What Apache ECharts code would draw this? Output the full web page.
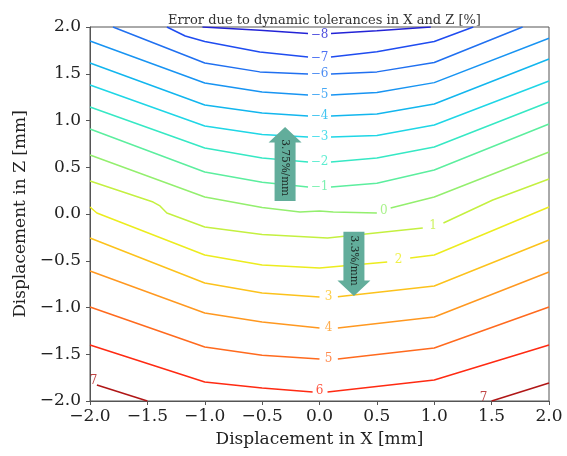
<!DOCTYPE html>
<html>
<head>
<meta charset="utf-8">
<script src="https://cdn.jsdelivr.net/npm/echarts@6/dist/echarts.min.js"></script>
<style>
html, body { margin: 0; padding: 0; background: #fff; }
#chart { width: 567px; height: 456px; }
</style>
</head>
<body>
<div id="chart"></div>
<script>
// contour levels of the error, in %
const levels = [-8, -7, -6, -5, -4, -3, -2, -1, 0, 1, 2, 3, 4, 5, 6, 7];

// contour lines: pieces of [x, z] in mm, split where the inline label sits
const lvM8 = [[[-1.02, 2.0], [-0.52, 1.965], [-0.1, 1.93]], [[0.1, 1.93], [0.5, 1.96], [0.97, 2.0]]];
const lvM7 = [[[-1.33, 2.0], [-1.17, 1.904], [-1.0, 1.845], [-0.52, 1.733], [-0.1, 1.678]], [[0.1, 1.678], [0.5, 1.735], [1.0, 1.845], [1.34, 2.0]]];
const lvM6 = [[[-1.8, 2.0], [-1.0, 1.615], [-0.52, 1.52], [-0.1, 1.497]], [[0.1, 1.497], [0.5, 1.52], [1.0, 1.62], [1.77, 2.0]]];
const lvM5 = [[[-2.0, 1.85], [-1.0, 1.401], [-0.5, 1.305], [-0.1, 1.273]], [[0.1, 1.273], [0.5, 1.3], [1.0, 1.405], [2.0, 1.88]]];
const lvM4 = [[[-2.0, 1.615], [-1.0, 1.166], [-0.5, 1.08], [-0.1, 1.048]], [[0.1, 1.048], [0.5, 1.07], [1.0, 1.176], [2.0, 1.658]]];
const lvM3 = [[[-2.0, 1.38], [-1.0, 0.941], [-0.5, 0.85], [-0.1, 0.824]], [[0.1, 0.824], [0.5, 0.84], [1.0, 0.952], [2.0, 1.422]]];
const lvM2 = [[[-2.0, 1.144], [-1.0, 0.706], [-0.5, 0.6], [-0.1, 0.556]], [[0.1, 0.556], [0.5, 0.6], [1.0, 0.717], [2.0, 1.198]]];
const lvM1 = [[[-2.0, 0.909], [-1.0, 0.449], [-0.5, 0.34], [-0.1, 0.289]], [[0.1, 0.289], [0.5, 0.33], [1.0, 0.471], [2.0, 0.963]]];
const lv0 = [[[-2.0, 0.631], [-1.0, 0.182], [-0.5, 0.07], [-0.17, 0.021], [0.0, 0.032], [0.12, 0.021], [0.5, 0.011]], [[0.62, 0.065], [1.0, 0.182], [2.0, 0.663]]];
const lvP1 = [[[-2.0, 0.353], [-1.45, 0.128], [-1.39, 0.086], [-1.33, 0.011], [-1.0, -0.139], [-0.5, -0.22], [0.07, -0.257], [0.9, -0.15]], [[1.08, -0.096], [1.51, 0.15], [2.0, 0.374]]];
const lvP2 = [[[-2.0, 0.075], [-1.94, 0.011], [-1.0, -0.439], [-0.5, -0.545], [0.0, -0.578], [0.59, -0.513]], [[0.79, -0.471], [1.0, -0.439], [2.0, 0.075]]];
const lvP3 = [[[-2.0, -0.257], [-1.0, -0.738], [-0.5, -0.845], [0.0, -0.888]], [[0.16, -0.885], [1.0, -0.77], [2.0, -0.278]]];
const lvP4 = [[[-2.0, -0.61], [-1.0, -1.059], [-0.5, -1.155], [0.0, -1.219]], [[0.16, -1.219], [1.0, -1.102], [2.0, -0.62]]];
const lvP5 = [[[-2.0, -0.995], [-1.0, -1.422], [-0.5, -1.51], [0.0, -1.551]], [[0.16, -1.551], [1.0, -1.433], [2.0, -0.995]]];
const lvP6 = [[[-2.0, -1.401], [-1.0, -1.797], [-0.5, -1.86], [-0.06, -1.904]], [[0.07, -1.904], [1.0, -1.775], [2.0, -1.401]]];
const lvP7 = [[[-1.94, -1.829], [-1.5, -2.0]], [[1.5, -2.0], [2.0, -1.807]]];
const contourLines = [lvM8, lvM7, lvM6, lvM5, lvM4, lvM3, lvM2, lvM1, lv0, lvP1, lvP2, lvP3, lvP4, lvP5, lvP6, lvP7];

// inline labels (clabel)
const labelLevel = [-8, -7, -6, -5, -4, -3, -2, -1, 0, 1, 2, 3, 4, 5, 6, 7, 7];
const labelX = [0, 0, 0, 0, 0, 0, 0, 0, 0.56, 0.99, 0.69, 0.08, 0.08, 0.08, 0.0, -1.97, 1.43];
const labelZ = [1.914, 1.675, 1.497, 1.273, 1.048, 0.824, 0.556, 0.289, 0.03, -0.128, -0.49, -0.888, -1.219, -1.551, -1.893, -1.786, -1.968];

// gradient arrows
const arrowX = [-0.30, 0.30];
const arrowFromZ = [0.14, -0.19];
const arrowToZ = [0.93, -0.877];
const arrowText = ['3.75%/mm', '3.3%/mm'];

const levelColors = ['#2323d6', '#1f4cf0', '#2070f0', '#1894f2', '#12b6ee', '#1fd6e6', '#36e8c4', '#5cee9e',
  '#93ef6e', '#c4f040', '#ecec1e', '#fcc21c', '#ff9820', '#ff6a1e', '#ff2a12', '#b01616'];

const FONT = 'DejaVu Serif';
const minus = (s) => String(s).replace('-', '\u2212');

const chart = echarts.init(document.getElementById('chart'));

const series = [];
contourLines.forEach((pieces, i) => {
  pieces.forEach((piece) => {
    series.push({
      type: 'line',
      data: piece,
      symbol: 'none',
      silent: true,
      lineStyle: { color: levelColors[i], width: 1.5 },
      z: 2,
    });
  });
});

series.push({
  type: 'scatter',
  symbolSize: 0,
  silent: true,
  z: 3,
  data: labelLevel.map((lv, i) => ({
    value: [labelX[i], labelZ[i]],
    label: {
      show: true,
      position: 'inside',
      formatter: minus(lv),
      color: levelColors[levels.indexOf(lv)],
      fontSize: 12,
      fontFamily: FONT,
    },
  })),
});

const axisCommon = {
  type: 'value',
  min: -2,
  max: 2,
  interval: 0.5,
  axisLine: { show: true, onZero: false, lineStyle: { color: '#555', width: 1 } },
  axisTick: { show: true, inside: false, length: 4, lineStyle: { color: '#555' } },
  splitLine: { show: false },
  axisLabel: {
    formatter: (v) => minus(v.toFixed(1)),
    fontSize: 17,
    fontFamily: FONT,
    color: '#222',
  },
  nameLocation: 'middle',
  nameTextStyle: { fontSize: 17, fontFamily: FONT, color: '#222' },
};

const option = {
  animation: false,
  title: {
    text: 'Error due to dynamic tolerances in X and Z [%]',
    left: 319.5,
    top: 9,
    textAlign: 'center',
    textStyle: { fontSize: 13, fontWeight: 'normal', fontFamily: FONT, color: '#333' },
  },
  grid: {
    left: 90, right: 18, top: 27, bottom: 55,
    show: true, borderColor: '#555', borderWidth: 1,
  },
  xAxis: {
    ...axisCommon,
    name: 'Displacement in X [mm]',
    nameGap: 30,
    axisLabel: { ...axisCommon.axisLabel, margin: 7 },
  },
  yAxis: {
    ...axisCommon,
    name: 'Displacement in Z [mm]',
    nameGap: 58,
    axisLabel: { ...axisCommon.axisLabel, margin: 9 },
  },
  series,
};

chart.setOption(option);

// arrows drawn in pixel space from their data-space anchor points
const graphics = [];
arrowX.forEach((ax, i) => {
  const base = chart.convertToPixel({ gridIndex: 0 }, [ax, arrowFromZ[i]]);
  const tip = chart.convertToPixel({ gridIndex: 0 }, [ax, arrowToZ[i]]);
  const dir = tip[1] < base[1] ? -1 : 1;
  const headLen = 15.5;
  const bodyHalf = 10.5;
  const headHalf = 16.5;
  const cx = base[0];
  const neck = tip[1] - dir * headLen;
  graphics.push({
    type: 'polygon',
    z: 10,
    shape: {
      points: [
        [cx - bodyHalf, base[1]], [cx + bodyHalf, base[1]],
        [cx + bodyHalf, neck], [cx + headHalf, neck],
        [tip[0], tip[1]],
        [cx - headHalf, neck], [cx - bodyHalf, neck],
      ],
    },
    style: { fill: '#62ad9b' },
  });
  graphics.push({
    type: 'text',
    z: 11,
    x: cx,
    y: base[1] + (tip[1] - base[1]) * 0.45,
    rotation: -Math.PI / 2,
    style: {
      text: arrowText[i],
      fontSize: 10.5,
      fontFamily: FONT,
      fill: '#1e2a26',
      align: 'center',
      verticalAlign: 'middle',
    },
  });
});
chart.setOption({ graphic: graphics });
</script>
</body>
</html>
